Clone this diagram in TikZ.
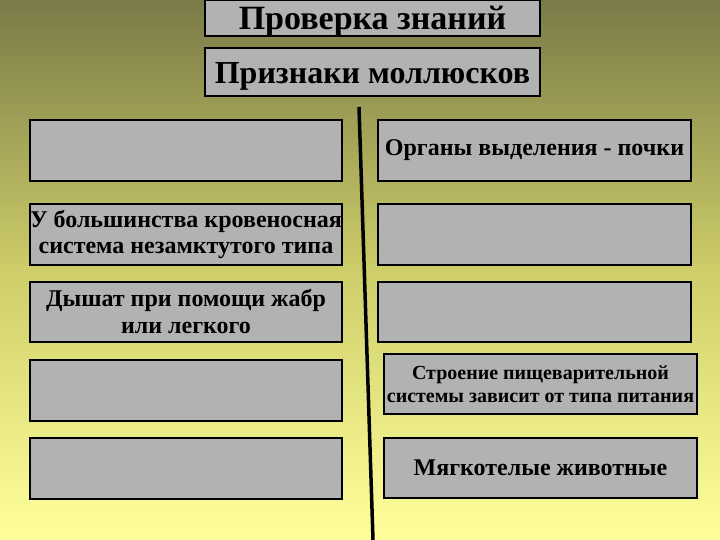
\documentclass[tikz,border=0pt]{standalone}
\usepackage{fontspec}
\setmainfont{Liberation Serif}
\begin{document}
\begin{tikzpicture}[x=1pt,y=-1pt,
  card/.style={draw=black, line width=1.3pt, fill={rgb,255:red,178;green,178;blue,178},
    inner sep=0pt, align=center, font=\bfseries\fontsize{24}{27}\selectfont},
  divider/.style={line width=3.5pt, black}]
\shade[top color={rgb,255:red,122;green,122;blue,72}, bottom color={rgb,255:red,255;green,255;blue,155},
  middle color={rgb,255:red,205;green,205;blue,105}] (0,0) rectangle (720,540);
\useasboundingbox (0,0) rectangle (720,540);
% header
\node[card, minimum width=335pt, minimum height=36pt, text height=30pt, text depth=6pt,
  font=\bfseries\fontsize{34}{36}\selectfont] (t1) at (372.5,18) {Проверка знаний};
\node[card, minimum width=335pt, minimum height=48pt, text height=36pt, text depth=12pt,
  font=\bfseries\fontsize{32}{34}\selectfont] (t2) at (372.5,72) {Признаки моллюсков};
% divider
\coordinate (d1) at (359,107);
\coordinate (d2) at (373,540);
\draw[divider] (d1) -- (d2);
% left column
\node[card, minimum width=312pt, minimum height=61pt] (l1) at (186,150.5) {};
\node[card, minimum width=312pt, minimum height=61pt] (l2) at (186,234.5) {У большинства кровеносная\\система незамктутого типа};
\node[card, minimum width=312pt, minimum height=60pt] (l3) at (186,312) {Дышат при помощи жабр\\или легкого};
\node[card, minimum width=312pt, minimum height=61pt] (l4) at (186,390.5) {};
\node[card, minimum width=312pt, minimum height=61pt] (l5) at (186,468.5) {};
% right column
\node[card, minimum width=313pt, minimum height=61pt] (r1) at (534.5,150.5) {Органы выделения - почки};
\node[card, minimum width=313pt, minimum height=61pt] (r2) at (534.5,234.5) {};
\node[card, minimum width=313pt, minimum height=60pt] (r3) at (534.5,312) {};
\node[card, minimum width=313pt, minimum height=60pt, font=\bfseries\fontsize{20}{23}\selectfont] (r4) at (540.5,384) {Строение пищеварительной\\системы зависит от типа питания};
\node[card, minimum width=313pt, minimum height=60pt] (r5) at (540.5,468) {Мягкотелые животные};
\end{tikzpicture}
\end{document}
